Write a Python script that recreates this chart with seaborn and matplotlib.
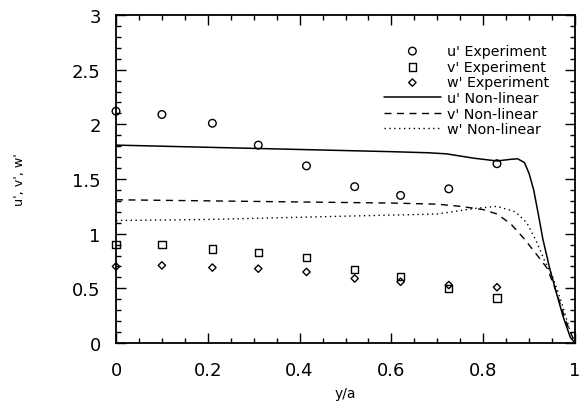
import numpy as np
import pandas as pd
import seaborn as sns
import matplotlib
matplotlib.use("Agg")
import matplotlib.pyplot as plt
from matplotlib.ticker import MultipleLocator

# Experimental data
exp_x = [0.0, 0.10, 0.21, 0.31, 0.415, 0.52, 0.62, 0.725, 0.83]
u_exp = [2.12, 2.09, 2.01, 1.81, 1.62, 1.43, 1.35, 1.41, 1.64]
v_exp = [0.90, 0.90, 0.86, 0.83, 0.78, 0.67, 0.61, 0.50, 0.41]
w_exp = [0.70, 0.71, 0.69, 0.68, 0.65, 0.59, 0.56, 0.53, 0.51]

# Non-linear model curves
u_nl_x = [0.0, 0.1, 0.2, 0.3, 0.4, 0.5, 0.6, 0.68, 0.72, 0.78, 0.83, 0.86, 0.875,
          0.89, 0.90, 0.91, 0.92, 0.93, 0.945, 0.96, 0.975, 0.99, 1.0]
u_nl_y = [1.81, 1.80, 1.79, 1.78, 1.77, 1.76, 1.75, 1.74, 1.73, 1.69, 1.665, 1.68, 1.685,
          1.65, 1.55, 1.40, 1.18, 0.95, 0.68, 0.45, 0.23, 0.05, 0.0]
v_nl_x = [0.0, 0.2, 0.4, 0.6, 0.7, 0.75, 0.8, 0.83, 0.86, 0.89, 0.92, 0.94, 0.96, 0.98, 1.0]
v_nl_y = [1.31, 1.30, 1.29, 1.28, 1.27, 1.25, 1.22, 1.18, 1.09, 0.95, 0.79, 0.68, 0.46, 0.20, 0.0]
w_nl_x = [0.0, 0.1, 0.2, 0.3, 0.4, 0.5, 0.6, 0.7, 0.78, 0.83, 0.87, 0.895, 0.917,
          0.935, 0.95, 0.97, 0.99, 1.0]
w_nl_y = [1.12, 1.125, 1.13, 1.14, 1.15, 1.16, 1.17, 1.18, 1.23, 1.25, 1.20, 1.10, 0.92,
          0.74, 0.62, 0.38, 0.10, 0.0]

x_ticks = [0, 0.2, 0.4, 0.6, 0.8, 1.0]
x_tick_labels = ["0", "0.2", "0.4", "0.6", "0.8", "1"]
y_ticks = [0, 0.5, 1, 1.5, 2, 2.5, 3]
y_tick_labels = ["0", "0.5", "1", "1.5", "2", "2.5", "3"]

sns.set_style("ticks")
plt.rcParams['font.family'] = ['DejaVu Sans']
plt.rcParams.update({"text.color": "black", "axes.labelcolor": "black",
                     "xtick.color": "black", "ytick.color": "black",
                     "axes.edgecolor": "black"})

fig = plt.figure(figsize=(5.79, 4.02), dpi=100)
ax = fig.add_axes([116/579, 1-344/402, (575-116)/579, (344-16)/402])

exp_df = pd.DataFrame({"x": exp_x, "u": u_exp, "v": v_exp, "w": w_exp})

sns.scatterplot(data=exp_df, x="x", y="u", ax=ax, marker="o", s=30, facecolor="none",
                edgecolor="black", linewidth=1.0, label="u' Experiment", clip_on=False, zorder=3)
sns.scatterplot(data=exp_df, x="x", y="v", ax=ax, marker="s", s=28, facecolor="none",
                edgecolor="black", linewidth=1.0, label="v' Experiment", clip_on=False, zorder=3)
sns.scatterplot(data=exp_df, x="x", y="w", ax=ax, marker="D", s=14, facecolor="none",
                edgecolor="black", linewidth=1.0, label="w' Experiment", clip_on=False, zorder=3)

sns.lineplot(x=u_nl_x, y=u_nl_y, ax=ax, color="black", linewidth=1.1, sort=False,
             label="u' Non-linear")
sns.lineplot(x=v_nl_x, y=v_nl_y, ax=ax, color="black", linewidth=1.0, sort=False,
             linestyle=(0, (5, 4)), label="v' Non-linear")
sns.lineplot(x=w_nl_x, y=w_nl_y, ax=ax, color="black", linewidth=1.0, sort=False,
             linestyle=(0, (1, 2.5)), label="w' Non-linear")

ax.set_xlim(0, 1)
ax.set_ylim(0, 3)
ax.set_xticks(x_ticks)
ax.set_xticklabels(x_tick_labels)
ax.set_yticks(y_ticks)
ax.set_yticklabels(y_tick_labels)
ax.xaxis.set_minor_locator(MultipleLocator(0.05))
ax.yaxis.set_minor_locator(MultipleLocator(0.1))

ax.tick_params(which="both", direction="in", top=True, right=True, color="black",
               labelcolor="black", width=1.0)
ax.tick_params(which="major", length=7, labelsize=13)
ax.tick_params(axis="x", which="major", pad=13)
ax.tick_params(axis="y", which="major", pad=11)
ax.tick_params(which="minor", length=3.5)
for sp in ax.spines.values():
    sp.set_color("black")
    sp.set_linewidth(1.3)

ax.set_xlabel("y/a", fontsize=10, labelpad=5, color="black")
ax.set_ylabel("u', v', w'", fontsize=9.2, labelpad=33, color="black")

leg = ax.legend(loc="upper right", bbox_to_anchor=(0.943, 0.912), frameon=False,
                fontsize=10.3, labelspacing=0.12, handlelength=4.0, handletextpad=0.4,
                borderpad=0, borderaxespad=0, labelcolor="black")

fig.savefig("out.png", dpi=100)
